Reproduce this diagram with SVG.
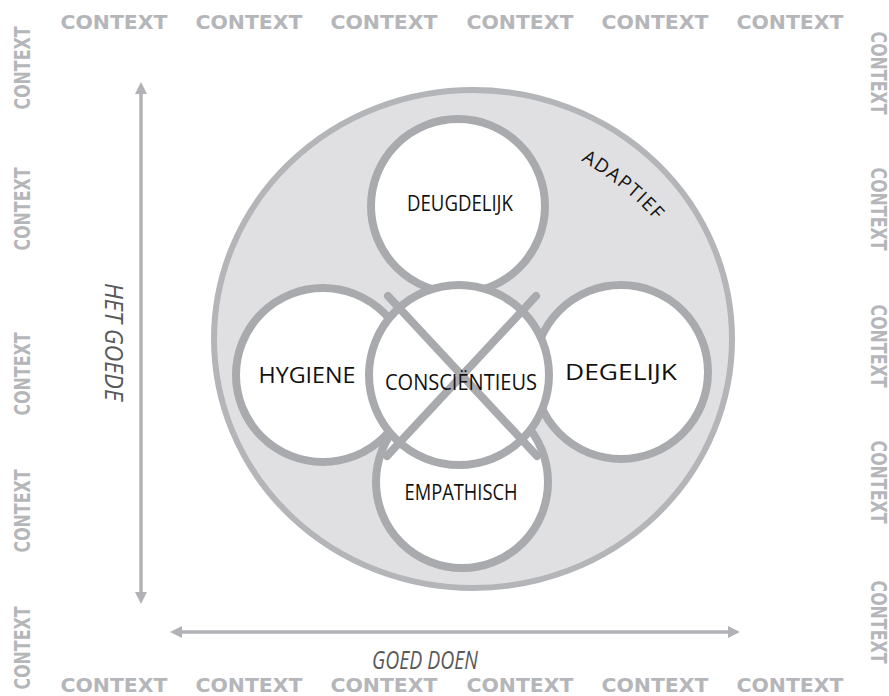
<svg xmlns="http://www.w3.org/2000/svg" width="889" height="696" viewBox="0 0 889 696">
<style>
.ctx{font-family:"DejaVu Sans",Verdana,sans-serif;font-weight:bold;font-size:20px;fill:#b5b6ba}
.ctxv{font-family:"DejaVu Sans",Verdana,sans-serif;font-weight:bold;font-size:21px;fill:#b5b6ba}
.lbl{font-family:"Open Sans","Noto Sans",sans-serif;font-size:21px;fill:#111;text-anchor:middle}
.ax{font-family:"Open Sans","Noto Sans",sans-serif;font-style:italic;font-size:25px;fill:#58595b;text-anchor:middle}
.petal{fill:#fff;stroke:#a9aaad;stroke-width:8}
.xl{stroke:#a9aaad;stroke-width:8;stroke-linecap:round}
.axis{stroke:#b1b2b5;stroke-width:3.5;fill:none}
</style>
<defs>
<marker id="ah" viewBox="0 0 12 12" refX="8" refY="6" markerWidth="12" markerHeight="12" orient="auto-start-reverse" markerUnits="userSpaceOnUse"><path d="M0,0 L12,6 L0,12 z" fill="#b1b2b5"/></marker>
<path id="arcA" d="M530,137.5 A300,300 0 0,1 689.5,266.6"/>
</defs>
<g id="context-top" class="ctx" text-anchor="middle">
<text x="114" y="29" textLength="107" lengthAdjust="spacingAndGlyphs">CONTEXT</text>
<text x="249" y="29" textLength="107" lengthAdjust="spacingAndGlyphs">CONTEXT</text>
<text x="384" y="29" textLength="107" lengthAdjust="spacingAndGlyphs">CONTEXT</text>
<text x="520" y="29" textLength="107" lengthAdjust="spacingAndGlyphs">CONTEXT</text>
<text x="655" y="29" textLength="107" lengthAdjust="spacingAndGlyphs">CONTEXT</text>
<text x="790" y="29" textLength="107" lengthAdjust="spacingAndGlyphs">CONTEXT</text>
</g>
<g id="context-bottom" class="ctx" text-anchor="middle">
<text x="114" y="692" textLength="107" lengthAdjust="spacingAndGlyphs">CONTEXT</text>
<text x="249" y="692" textLength="107" lengthAdjust="spacingAndGlyphs">CONTEXT</text>
<text x="384" y="692" textLength="107" lengthAdjust="spacingAndGlyphs">CONTEXT</text>
<text x="520" y="692" textLength="107" lengthAdjust="spacingAndGlyphs">CONTEXT</text>
<text x="655" y="692" textLength="107" lengthAdjust="spacingAndGlyphs">CONTEXT</text>
<text x="790" y="692" textLength="107" lengthAdjust="spacingAndGlyphs">CONTEXT</text>
</g>
<g id="context-left" class="ctxv" text-anchor="middle">
<text transform="translate(30,68) rotate(-90)" textLength="83" lengthAdjust="spacingAndGlyphs">CONTEXT</text>
<text transform="translate(30,209) rotate(-90)" textLength="83" lengthAdjust="spacingAndGlyphs">CONTEXT</text>
<text transform="translate(30,374) rotate(-90)" textLength="83" lengthAdjust="spacingAndGlyphs">CONTEXT</text>
<text transform="translate(30,511) rotate(-90)" textLength="83" lengthAdjust="spacingAndGlyphs">CONTEXT</text>
<text transform="translate(30,648) rotate(-90)" textLength="83" lengthAdjust="spacingAndGlyphs">CONTEXT</text>
</g>
<g id="context-right" class="ctxv" text-anchor="middle">
<text transform="translate(871,73) rotate(90)" textLength="83" lengthAdjust="spacingAndGlyphs">CONTEXT</text>
<text transform="translate(871,209) rotate(90)" textLength="83" lengthAdjust="spacingAndGlyphs">CONTEXT</text>
<text transform="translate(871,346) rotate(90)" textLength="83" lengthAdjust="spacingAndGlyphs">CONTEXT</text>
<text transform="translate(871,482) rotate(90)" textLength="83" lengthAdjust="spacingAndGlyphs">CONTEXT</text>
<text transform="translate(871,622) rotate(90)" textLength="83" lengthAdjust="spacingAndGlyphs">CONTEXT</text>
</g>
<g id="connectors">
<line class="axis" x1="141" y1="86" x2="141" y2="600" marker-start="url(#ah)" marker-end="url(#ah)"/>
<line class="axis" x1="174" y1="632" x2="736" y2="632" marker-start="url(#ah)" marker-end="url(#ah)"/>
</g>
<g id="axis-labels">
<text class="ax" transform="translate(105,342) rotate(90)" textLength="118" lengthAdjust="spacingAndGlyphs">HET GOEDE</text>
<text class="ax" x="425" y="669" textLength="106" lengthAdjust="spacingAndGlyphs">GOED DOEN</text>
</g>
<g id="adaptief">
<ellipse cx="473" cy="339" rx="259" ry="249" fill="#e0e0e2" stroke="#b4b5b8" stroke-width="6"/>
<text font-family="Open Sans,Noto Sans,sans-serif" font-size="19" letter-spacing="1.5" fill="#111" text-anchor="middle"><textPath href="#arcA" startOffset="50%">ADAPTIEF</textPath></text>
</g>
<g id="deugdelijk"><circle class="petal" cx="458" cy="206" r="87"/><text class="lbl" x="460" y="211" textLength="106" lengthAdjust="spacingAndGlyphs">DEUGDELIJK</text></g>
<g id="hygiene"><circle class="petal" cx="323" cy="375" r="87"/><text class="lbl" x="307" y="383" textLength="97" lengthAdjust="spacingAndGlyphs">HYGIENE</text></g>
<g id="degelijk"><circle class="petal" cx="621" cy="372" r="87"/><text class="lbl" x="621" y="380" textLength="112" lengthAdjust="spacingAndGlyphs">DEGELIJK</text></g>
<g id="empathisch"><circle class="petal" cx="462" cy="482" r="86"/><text class="lbl" x="461" y="500" textLength="113" lengthAdjust="spacingAndGlyphs">EMPATHISCH</text></g>
<g id="conscientieus">
<circle class="petal" cx="459" cy="375" r="90"/>
<line class="xl" x1="388" y1="296" x2="537" y2="456"/>
<line class="xl" x1="536" y1="296" x2="387" y2="456"/>
<text class="lbl" x="461" y="390" textLength="152" lengthAdjust="spacingAndGlyphs">CONSCIËNTIEUS</text>
</g>
</svg>
